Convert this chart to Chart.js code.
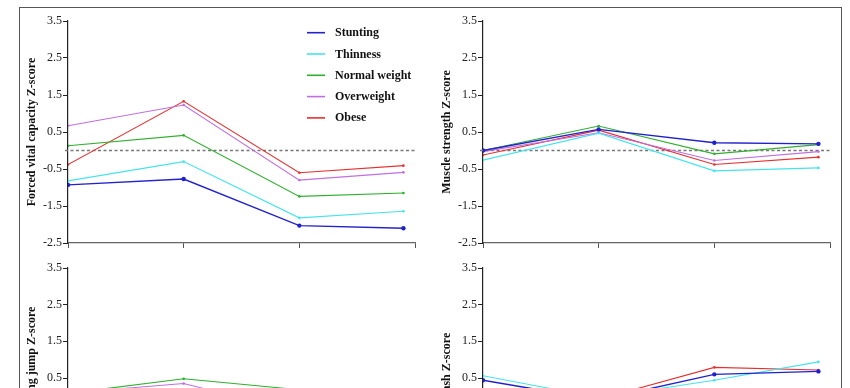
<!DOCTYPE html>
<html><head><meta charset="utf-8">
<script src="https://cdn.jsdelivr.net/npm/chart.js@4.4.1/dist/chart.umd.min.js"></script>
<style>
html,body{margin:0;padding:0;background:#fff;overflow:hidden;width:850px;height:388px}
#fig{position:relative;width:850px;height:560px}
#frame{position:absolute;left:19px;top:7px;width:823px;height:600px;border:1px solid #555;box-sizing:border-box;border-width:1.5px}
.p{position:absolute}
</style></head><body>
<div id="fig"><div id="frame"></div>
<div class="p" style="left:20px;top:10px;width:405px;height:245px"><canvas id="c1"></canvas></div>
<div class="p" style="left:435px;top:10px;width:405px;height:245px"><canvas id="c2"></canvas></div>
<div class="p" style="left:20px;top:257px;width:405px;height:243px"><canvas id="c3"></canvas></div>
<div class="p" style="left:435px;top:257px;width:405px;height:243px"><canvas id="c4"></canvas></div>
</div>
<script>
const seriesNames = ['Stunting','Thinness','Normal weight','Overweight','Obese'];
const seriesColors = ['#2222cc','#44e4ec','#2eb02e','#c06ee0','#e63030'];
const xPositions = [0, 1, 2, 2.9];
const yTickValues = [-2.5, -1.5, -0.5, 0.5, 1.5, 2.5, 3.5];
const yTickLabels = ['-2.5', '-1.5', '-0.5', '0.5', '1.5', '2.5', '3.5'];

// Forced vital capacity
const fvcStunting   = [-0.93, -0.77, -2.03, -2.10];
const fvcThinness   = [-0.82, -0.30, -1.82, -1.64];
const fvcNormal     = [ 0.13,  0.41, -1.24, -1.15];
const fvcOverweight = [ 0.67,  1.23, -0.80, -0.59];
const fvcObese      = [-0.38,  1.33, -0.60, -0.41];

// Muscle strength
const msStunting   = [ 0.00, 0.57,  0.21,  0.18];
const msThinness   = [-0.26, 0.47, -0.55, -0.47];
const msNormal     = [ 0.00, 0.66, -0.09,  0.16];
const msOverweight = [-0.03, 0.48, -0.27, -0.03];
const msObese      = [-0.12, 0.55, -0.38, -0.18];

// Standing long jump
const sljStunting   = [-0.60, -0.40, -0.90, -0.80];
const sljThinness   = [-0.40, -0.10, -0.70, -0.60];
const sljNormal     = [ 0.08,  0.48,  0.18,  0.10];
const sljOverweight = [ 0.09,  0.35, -0.44, -0.30];
const sljObese      = [-0.20,  0.10, -0.50, -0.40];

// 50-m dash
const dashStunting   = [ 0.44, -0.10, 0.60, 0.68];
const dashThinness   = [ 0.56, -0.04, 0.44, 0.94];
const dashNormal     = [-0.10, -0.30, 0.05, 0.15];
const dashOverweight = [ 0.05, -0.20, 0.15, 0.18];
const dashObese      = [ 0.10, -0.08, 0.79, 0.72];

const zeroLine = {
  id: 'zeroLine',
  beforeDatasetsDraw(chart) {
    const {ctx, chartArea, scales} = chart;
    const y = scales.y.getPixelForValue(0);
    ctx.save();
    ctx.strokeStyle = '#777';
    ctx.lineWidth = 1.3;
    ctx.setLineDash([3, 2.5]);
    ctx.beginPath();
    ctx.moveTo(chartArea.left - 3, y);
    ctx.lineTo(chartArea.right, y);
    ctx.stroke();
    ctx.restore();
  }
};

const legendPlugin = {
  id: 'innerLegend',
  afterDraw(chart, args, opts) {
    if (!opts.show) return;
    const {ctx, chartArea} = chart;
    ctx.save();
    ctx.font = 'bold 12px "Liberation Serif"';
    ctx.textBaseline = 'middle';
    ctx.fillStyle = '#111';
    chart.data.datasets.forEach((ds, i) => {
      const y = chartArea.top + 11.7 + i * 21.3;
      ctx.strokeStyle = ds.borderColor;
      ctx.lineWidth = 1.6;
      ctx.beginPath();
      ctx.moveTo(chartArea.left + 239, y);
      ctx.lineTo(chartArea.left + 257, y);
      ctx.stroke();
      ctx.fillText(ds.label, chartArea.left + 267, y + 0.5);
    });
    ctx.restore();
  }
};

function makeChart(id, title, series, showLegend) {
  return new Chart(document.getElementById(id), {
    type: 'line',
    data: {
      datasets: seriesNames.map((n, i) => ({
        label: n,
        data: xPositions.map((x, j) => ({x: x, y: series[i][j]})),
        borderColor: seriesColors[i],
        backgroundColor: seriesColors[i],
        pointBackgroundColor: seriesColors[i],
        borderWidth: i === 0 ? 1.4 : 1.1,
        pointRadius: i === 0 ? 2.2 : 1.3,
        pointBorderWidth: 0,
        tension: 0
      }))
    },
    options: {
      animation: false,
      responsive: true,
      maintainAspectRatio: false,
      layout: {padding: {top: 11, right: 10, left: 0, bottom: 0}},
      plugins: {legend: {display: false}, tooltip: {enabled: false}, innerLegend: {show: showLegend}},
      scales: {
        x: {
          type: 'linear', min: 0, max: 3,
          ticks: {display: false, stepSize: 1},
          grid: {drawOnChartArea: false, drawTicks: true, tickLength: 5, color: '#555'},
          border: {color: '#666', width: 1.2},
          afterFit(s) { s.height = 12; }
        },
        y: {
          min: -2.5, max: 3.5,
          afterBuildTicks(s) { s.ticks = yTickValues.map(v => ({value: v})); },
          ticks: {callback: (v, i) => yTickLabels[i], font: {family: 'Liberation Serif', size: 12}, color: '#222', padding: 1},
          grid: {drawOnChartArea: false, tickLength: 5, color: '#222'},
          border: {color: '#222', width: 1.2},
          title: {display: true, text: title, font: {family: 'Liberation Serif', size: 12, weight: 'bold'}, color: '#111', padding: {top: 5, bottom: 0}},
          afterFit(s) { s.width = 48; }
        }
      }
    },
    plugins: [zeroLine, legendPlugin]
  });
}

makeChart('c1', 'Forced vital capacity Z-score', [fvcStunting, fvcThinness, fvcNormal, fvcOverweight, fvcObese], true);
makeChart('c2', 'Muscle strength Z-score', [msStunting, msThinness, msNormal, msOverweight, msObese], false);
makeChart('c3', 'Standing long jump Z-score', [sljStunting, sljThinness, sljNormal, sljOverweight, sljObese], false);
makeChart('c4', '50m dash Z-score', [dashStunting, dashThinness, dashNormal, dashOverweight, dashObese], false);
</script>
</body></html>
